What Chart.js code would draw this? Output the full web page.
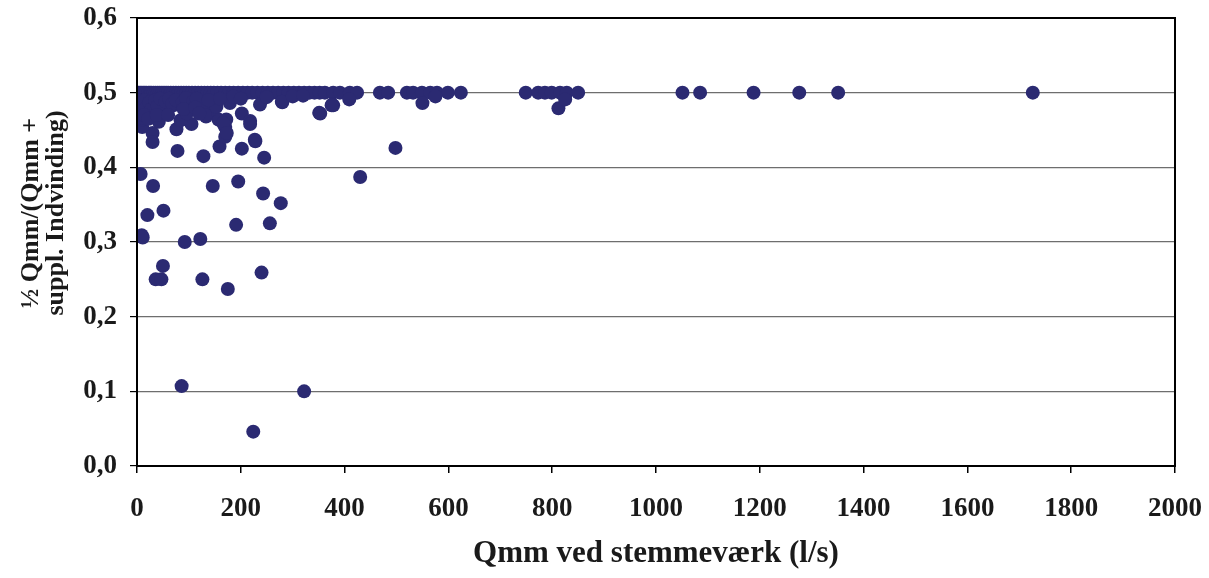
<!DOCTYPE html>
<html>
<head>
<meta charset="utf-8">
<script src="https://cdn.jsdelivr.net/npm/chart.js@4/dist/chart.umd.min.js"></script>
<style>
html,body{margin:0;padding:0;background:#fff;}
#wrap{width:1209px;height:578px;position:relative;}
</style>
</head>
<body>
<div id="wrap"><canvas id="c" width="1209" height="578"></canvas></div>
<script>
// Qmm ved stemmeværk (l/s)
const qmm = [
  0,3,6,9,12,15,18,22,25,28,32,36,40,44,48,52,56,60,65,70,75,80,85,90,95,100,106,112,118,124,130,136,142,148,155,162,170,178,186,195,204,213,222,232,242,252,262,272,282,292,302,312,322,332,342,352,362,378,391,410,424,468,484,520,532,549,565,578,599,624,749,773,786,799,815,828,850,1051,1085,1188,1276,1351,1726,
  7,9,11,20,31,36,47,50,51,86,92,122,126,146,175,191,195,224,240,243,256,277,322,430,498,
  78,128,159,202,228,245,170,170,157,172,202,218,218,105,76,30,30,10,10,42,57,84,96,133,142,128,179,186,351,376,409,550,575,280,237,378,812,825,166,173,70,131,153,279,353,375,227,50,5,5,
  2,8,15,18,24,28,35,40,45,55,62,68,75,88,95,108,115,138,160,200,250,300,320,14,22,38,60,90,112,120
];
// ½ Qmm/(Qmm + suppl. Indvinding)
const ratio = [
  0.5,0.5,0.5,0.5,0.5,0.5,0.5,0.5,0.5,0.5,0.5,0.5,0.5,0.5,0.5,0.5,0.5,0.5,0.5,0.5,0.5,0.5,0.5,0.5,0.5,0.5,0.5,0.5,0.5,0.5,0.5,0.5,0.5,0.5,0.5,0.5,0.5,0.5,0.5,0.5,0.5,0.5,0.5,0.5,0.5,0.5,0.5,0.5,0.5,0.5,0.5,0.5,0.5,0.5,0.5,0.5,0.5,0.5,0.5,0.5,0.5,0.5,0.5,0.5,0.5,0.5,0.5,0.5,0.5,0.5,0.5,0.5,0.5,0.5,0.5,0.5,0.5,0.5,0.5,0.5,0.5,0.5,0.5,
  0.391,0.309,0.306,0.336,0.375,0.250,0.250,0.268,0.342,0.107,0.300,0.304,0.250,0.375,0.237,0.323,0.381,0.046,0.259,0.365,0.325,0.352,0.100,0.387,0.426,
  0.422,0.415,0.428,0.425,0.435,0.413,0.441,0.454,0.464,0.464,0.472,0.462,0.458,0.458,0.451,0.446,0.434,0.454,0.464,0.461,0.477,0.463,0.472,0.468,0.477,0.480,0.486,0.495,0.473,0.484,0.491,0.486,0.495,0.487,0.484,0.483,0.479,0.491,0.459,0.446,0.483,0.470,0.481,0.488,0.472,0.483,0.437,0.474,0.474,0.466,
  0.490,0.485,0.490,0.480,0.487,0.478,0.490,0.482,0.492,0.488,0.492,0.485,0.490,0.487,0.493,0.488,0.492,0.490,0.492,0.492,0.494,0.495,0.496,0.470,0.465,0.470,0.470,0.478,0.480,0.472
];
const xTickLabels = ['0','200','400','600','800','1000','1200','1400','1600','1800','2000'];
const yTickLabels = ['0,0','0,1','0,2','0,3','0,4','0,5','0,6'];
const xTitle = 'Qmm ved stemmeværk (l/s)';
const yTitleLines = ['½ Qmm/(Qmm +', 'suppl. Indvinding)'];

const points = qmm.map((x, i) => ({x: x, y: ratio[i]}));
const FONT = "'Liberation Serif', 'Times New Roman', serif";

function noPad(s) {
  s.paddingLeft = 0; s.paddingRight = 0; s.paddingTop = 0; s.paddingBottom = 0;
}

const frame = {
  id: 'frame',
  afterDraw(chart) {
    const {ctx, chartArea: a} = chart;
    ctx.save();
    ctx.strokeStyle = '#000';
    ctx.lineWidth = 2;
    ctx.strokeRect(a.left, a.top, a.right - a.left, a.bottom - a.top);
    // y axis title
    ctx.fillStyle = '#1a1a1a';
    ctx.font = "bold 26px " + FONT;
    ctx.textAlign = 'center';
    ctx.textBaseline = 'middle';
    ctx.translate(31, 213);
    ctx.rotate(-Math.PI / 2);
    ctx.fillText(yTitleLines[0], 0, 0);
    ctx.fillText(yTitleLines[1], 0, 25);
    ctx.restore();
  }
};

new Chart(document.getElementById('c'), {
  type: 'scatter',
  data: {
    datasets: [{
      data: points,
      backgroundColor: '#2B2A72',
      borderColor: '#2B2A72',
      borderWidth: 0,
      pointRadius: 7,
      pointHoverRadius: 7
    }]
  },
  options: {
    responsive: false,
    animation: false,
    layout: {padding: {left: 0, right: 34, top: 18, bottom: 0}},
    plugins: {legend: {display: false}, tooltip: {enabled: false}, title: {display: false}},
    scales: {
      x: {
        type: 'linear',
        min: 0, max: 2000,
        afterFit(s) { s.height = 112; noPad(s); },
        ticks: {
          stepSize: 200,
          color: '#1a1a1a',
          padding: 20,
          maxRotation: 0,
          font: {family: FONT, size: 27, weight: 'bold'},
          callback: (v, i) => xTickLabels[i]
        },
        grid: {display: true, drawOnChartArea: false, color: '#000', tickLength: 7, lineWidth: 1.5},
        border: {display: true, color: '#000', width: 2},
        title: {
          display: true,
          text: xTitle,
          color: '#1a1a1a',
          font: {family: FONT, size: 31, weight: 'bold'},
          padding: {top: 0, bottom: 5}
        }
      },
      y: {
        type: 'linear',
        min: 0, max: 0.6,
        afterFit(s) { s.width = 137; noPad(s); },
        ticks: {
          stepSize: 0.1,
          color: '#1a1a1a',
          padding: 13,
          font: {family: FONT, size: 27, weight: 'bold'},
          callback: (v, i) => yTickLabels[i]
        },
        grid: {
          display: true,
          drawOnChartArea: true,
          color: '#6e6e6e',
          lineWidth: 1.2,
          tickColor: '#000',
          tickLength: 7
        },
        border: {display: true, color: '#000', width: 2}
      }
    }
  },
  plugins: [frame]
});
</script>
</body>
</html>
